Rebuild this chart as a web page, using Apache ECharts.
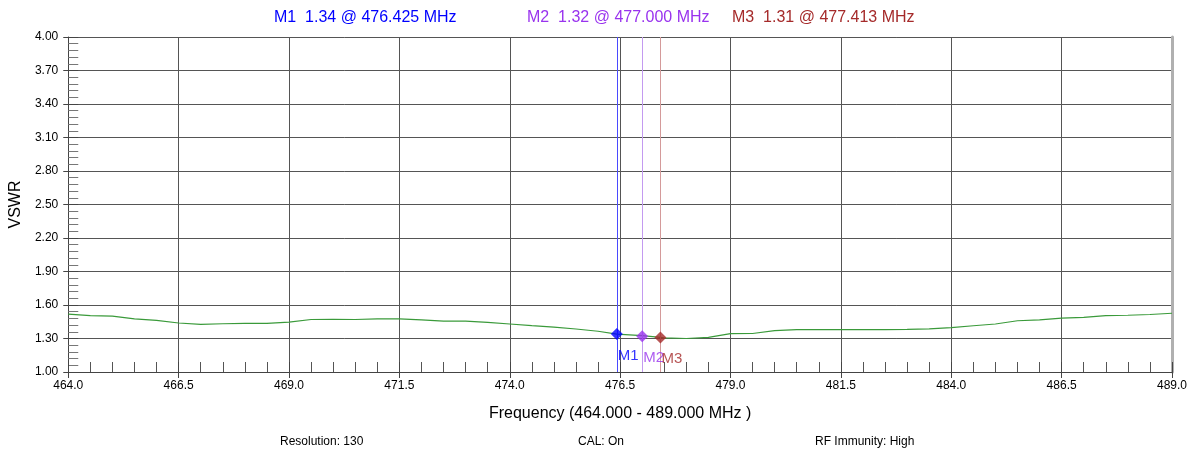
<!DOCTYPE html>
<html>
  <head>
    <meta charset="utf-8" />
    <title>VSWR</title>
    <script src="https://cdn.jsdelivr.net/npm/echarts@6/dist/echarts.min.js"></script>
    <style>
      html, body { margin: 0; padding: 0; background: #fff; }
      #chart { width: 1196px; height: 450px; }
    </style>
  </head>
  <body>
    <div id="chart"></div>
    <script>
      // frequency (MHz) and VSWR
      var freqs = [464.0, 464.5, 465.0, 465.5, 466.0, 466.5, 467.0, 467.5, 468.0, 468.5,
                   469.0, 469.5, 470.0, 470.5, 471.0, 471.5, 472.0, 472.5, 473.0, 473.5,
                   474.0, 474.5, 475.0, 475.5, 476.0, 476.425, 477.0, 477.413, 477.5, 478.0,
                   478.5, 479.0, 479.5, 480.0, 480.5, 481.0, 481.5, 482.0, 482.5, 483.0,
                   483.5, 484.0, 484.5, 485.0, 485.5, 486.0, 486.5, 487.0, 487.5, 488.0,
                   488.5, 489.0];
      var vswr = [1.519, 1.505, 1.500, 1.475, 1.462, 1.439, 1.427, 1.432, 1.436, 1.436,
                  1.446, 1.470, 1.472, 1.470, 1.475, 1.475, 1.466, 1.455, 1.455, 1.445,
                  1.430, 1.415, 1.402, 1.385, 1.365, 1.340, 1.325, 1.310, 1.305, 1.300,
                  1.310, 1.343, 1.345, 1.370, 1.379, 1.379, 1.379, 1.379, 1.380, 1.382,
                  1.386, 1.397, 1.414, 1.430, 1.459, 1.466, 1.482, 1.490, 1.505, 1.508,
                  1.515, 1.526];

      var markerNames = ["M1", "M2", "M3"];
      var markerFreqs = [476.425, 477.000, 477.413];
      var markerValues = [1.34, 1.32, 1.31];
      var markerColors = ["#0000ff", "#9933ee", "#a52a2a"];
      var markerLineColors = ["#4a4aff", "#c39af0", "#d49a9a"];

      var font = "Liberation Sans, Arial, sans-serif";

      var trace = [];
      for (var i = 0; i < freqs.length; i++) {
        trace.push([freqs[i], vswr[i]]);
      }

      var markerPoints = [];
      var markerLines = [];
      var titles = [];
      var titleLeft = [269, 522, 727];
      for (var k = 0; k < markerNames.length; k++) {
        markerPoints.push({
          value: [markerFreqs[k], markerValues[k]],
          name: markerNames[k],
          itemStyle: { color: markerColors[k] },
          label: { color: markerColors[k] }
        });
        markerLines.push({
          xAxis: markerFreqs[k],
          lineStyle: { color: markerLineColors[k], width: 1, type: "solid" }
        });
        titles.push({
          text: markerNames[k] + "  " + markerValues[k].toFixed(2) + " @ " + markerFreqs[k].toFixed(3) + " MHz",
          left: titleLeft[k],
          top: 5,
          textStyle: { color: markerColors[k], fontSize: 16, fontWeight: "normal", fontFamily: font }
        });
      }

      var bottomTexts = [["Resolution: 130", 275], ["CAL: On", 573], ["RF Immunity: High", 810]];
      for (var j = 0; j < bottomTexts.length; j++) {
        titles.push({
          text: bottomTexts[j][0],
          left: bottomTexts[j][1],
          top: 431,
          textStyle: { color: "#000", fontSize: 12, fontWeight: "normal", fontFamily: font }
        });
      }

      var myChart = echarts.init(document.getElementById("chart"));
      var option = {
        animation: false,
        title: titles,
        grid: { left: 67, right: 24, top: 37, bottom: 78, show: false },
        xAxis: [
          {
            type: "value",
            min: 464,
            max: 489,
            interval: 2.5,
            position: "bottom",
            name: "Frequency (464.000 - 489.000 MHz )",
            nameLocation: "middle",
            nameGap: 34,
            nameTextStyle: { color: "#000", fontSize: 16, fontFamily: font },
            axisLine: { onZero: false, lineStyle: { color: "#444", width: 1 } },
            axisTick: { inside: true, length: 10, lineStyle: { color: "#444" } },
            minorTick: { show: true, splitNumber: 5, length: 10, lineStyle: { color: "#555" } },
            axisLabel: {
              margin: 8,
              color: "#000",
              fontSize: 12,
              fontFamily: font,
              formatter: function (v) { return v.toFixed(1); }
            },
            splitLine: { show: true, lineStyle: { color: "#555", width: 1 } }
          },
          {
            type: "value",
            min: 464,
            max: 489,
            interval: 2.5,
            position: "bottom",
            axisLine: { show: false, onZero: false },
            axisTick: { show: true, inside: false, length: 6, lineStyle: { color: "#444" } },
            axisLabel: { show: false },
            splitLine: { show: false }
          }
        ],
        yAxis: [
          {
            type: "value",
            min: 1,
            max: 4,
            interval: 0.3,
            position: "left",
            name: "VSWR",
            nameLocation: "middle",
            nameGap: 44,
            nameTextStyle: { color: "#000", fontSize: 16, fontFamily: font },
            axisLine: { show: true, onZero: false, lineStyle: { color: "#444", width: 1 } },
            axisTick: { show: true, inside: true, length: 10, lineStyle: { color: "#444" } },
            minorTick: { show: true, splitNumber: 5, length: 10, lineStyle: { color: "#777" } },
            axisLabel: {
              margin: 10,
              color: "#000",
              fontSize: 12,
              fontFamily: font,
              formatter: function (v) { return v.toFixed(2); }
            },
            splitLine: { show: true, lineStyle: { color: "#555", width: 1 } }
          },
          {
            type: "value",
            min: 1,
            max: 4,
            interval: 0.3,
            position: "left",
            axisLine: { show: false, onZero: false },
            axisTick: { show: true, inside: false, length: 5, lineStyle: { color: "#444" } },
            axisLabel: { show: false },
            splitLine: { show: false }
          },
          {
            type: "value",
            min: 1,
            max: 4,
            position: "right",
            axisLine: { show: true, onZero: false, lineStyle: { color: "#b0b0b0", width: 3 } },
            axisTick: { show: false },
            axisLabel: { show: false },
            splitLine: { show: false }
          }
        ],
        series: [
          {
            type: "line",
            data: trace,
            xAxisIndex: 0,
            yAxisIndex: 0,
            showSymbol: false,
            symbol: "none",
            lineStyle: { color: "#3a9a3a", width: 1.2 },
            z: 3
          },
          {
            type: "scatter",
            data: markerPoints,
            xAxisIndex: 0,
            yAxisIndex: 0,
            symbol: "diamond",
            symbolSize: 12,
            z: 5,
            label: {
              show: true,
              position: [7, 20],
              fontSize: 15,
              fontFamily: font,
              formatter: function (p) { return p.name; }
            },
            markLine: {
              silent: true,
              symbol: "none",
              z: 4,
              label: { show: false },
              data: markerLines
            }
          }
        ]
      };
      myChart.setOption(option);
    </script>
  </body>
</html>
